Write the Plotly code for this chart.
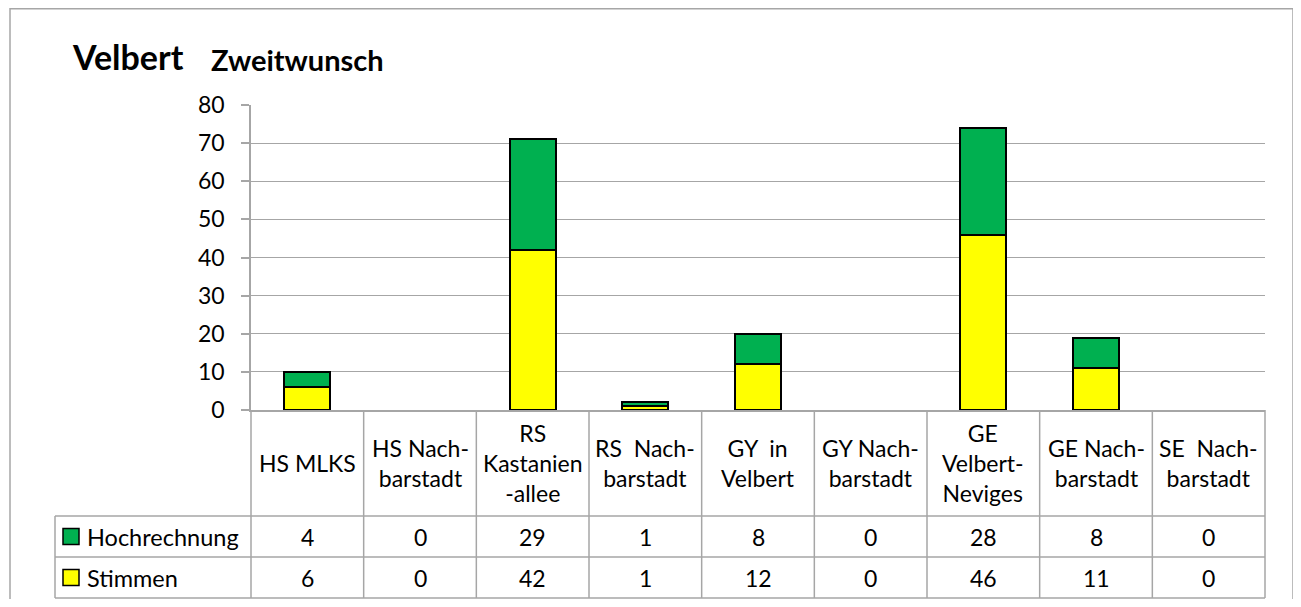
import plotly.graph_objects as go

# ---- data ----
categories = ["HS MLKS", "HS Nach-<br>barstadt", "RS<br>Kastanien<br>-allee",
              "RS \u00a0Nach-<br>barstadt", "GY \u00a0in<br>Velbert", "GY Nach-<br>barstadt",
              "GE<br>Velbert-<br>Neviges", "GE Nach-<br>barstadt", "SE \u00a0Nach-<br>barstadt"]
stimmen = [6, 0, 42, 1, 12, 0, 46, 11, 0]
hochrechnung = [4, 0, 29, 1, 8, 0, 28, 8, 0]
series_names = ["Stimmen", "Hochrechnung"]
series_colors = ["#FFFF00", "#00B050"]
title_main = "Velbert"
title_sub = "Zweitwunsch"

# ---- layout helpers (target page pixel -> paper); page body has an 8px margin ----
OFF = 8
W, H = 1301 - 2 * OFF, 607 - 2 * OFF
def fx(p): return (p - OFF) / W
def fy(p): return 1 - (p - OFF) / H

FONT = "Lato, 'Open Sans', sans-serif"
GRID = "#A6A6A6"
x_left, x_right = 251, 1265
y_top, y_zero = 105, 410
row_lines = [516, 557, 598]
table_left = 55
ncol = len(categories)
colw = (x_right - x_left) / ncol

def outline(vals):
    # no visible outline on empty (zero-height) bars
    return [2 if v else 0 for v in vals]

fig = go.Figure()
fig.add_trace(go.Bar(x=categories, y=stimmen, name=series_names[0],
                     marker=dict(color=series_colors[0],
                                 line=dict(color="black", width=outline(stimmen))),
                     width=0.41))
fig.add_trace(go.Bar(x=categories, y=hochrechnung, name=series_names[1],
                     marker=dict(color=series_colors[1],
                                 line=dict(color="black", width=outline(hochrechnung))),
                     width=0.41))

shapes = []
# outer border
shapes.append(dict(type="rect", xref="paper", yref="paper", x0=fx(10), x1=fx(1293),
                   y0=fy(640), y1=fy(8.8), line=dict(color=GRID, width=1.5)))
# table vertical separators
for i in range(ncol + 1):
    xp = x_left + i * colw
    shapes.append(dict(type="line", xref="paper", yref="paper", x0=fx(xp), x1=fx(xp),
                       y0=fy(y_zero), y1=fy(row_lines[-1]), line=dict(color=GRID, width=1.5)))
# left border of legend column
shapes.append(dict(type="line", xref="paper", yref="paper", x0=fx(table_left), x1=fx(table_left),
                   y0=fy(row_lines[0]), y1=fy(row_lines[-1]), line=dict(color=GRID, width=1.5)))
# horizontal row lines
for yl in row_lines:
    shapes.append(dict(type="line", xref="paper", yref="paper", x0=fx(table_left), x1=fx(x_right),
                       y0=fy(yl), y1=fy(yl), line=dict(color=GRID, width=1.5)))
# legend keys
row_centers = [(row_lines[0] + row_lines[1]) / 2, (row_lines[1] + row_lines[2]) / 2]
table_rows = [(series_names[1], series_colors[1], hochrechnung),
              (series_names[0], series_colors[0], stimmen)]
for (name, col, vals), yc in zip(table_rows, row_centers):
    shapes.append(dict(type="rect", xref="paper", yref="paper", x0=fx(63), x1=fx(79),
                       y0=fy(yc + 8), y1=fy(yc - 8), fillcolor=col,
                       line=dict(color="black", width=1.5)))

annotations = []
annotations.append(dict(text="<b>" + title_main + "</b>", xref="paper", yref="paper",
                        x=fx(70), y=fy(57), xanchor="left", yanchor="middle", showarrow=False,
                        font=dict(family=FONT, size=34, color="black")))
annotations.append(dict(text="<b>" + title_sub + "</b>", xref="paper", yref="paper",
                        x=fx(209), y=fy(59), xanchor="left", yanchor="middle", showarrow=False,
                        font=dict(family=FONT, size=29, color="black")))
for c in categories:
    annotations.append(dict(text=c, xref="x", yref="paper", x=c, y=fy((y_zero + row_lines[0]) / 2),
                            xanchor="center", yanchor="middle", showarrow=False, align="center",
                            font=dict(family=FONT, size=23, color="black")))
for (name, col, vals), yc in zip(table_rows, row_centers):
    annotations.append(dict(text=name, xref="paper", yref="paper", x=fx(85), y=fy(yc),
                            xanchor="left", yanchor="middle", showarrow=False,
                            font=dict(family=FONT, size=23.5, color="black")))
    for c, v in zip(categories, vals):
        annotations.append(dict(text=str(v), xref="x", yref="paper", x=c, y=fy(yc),
                                xanchor="center", yanchor="middle", showarrow=False,
                                font=dict(family=FONT, size=23, color="black")))

fig.update_layout(
    width=W, height=H, margin=dict(l=0, r=0, t=0, b=0, pad=0, autoexpand=False),
    paper_bgcolor="white", plot_bgcolor="white",
    barmode="stack", showlegend=False, bargap=0.59,
    font=dict(family=FONT, size=23, color="black"),
    shapes=shapes, annotations=annotations,
    xaxis=dict(domain=[fx(x_left), fx(x_right)], range=[-0.5, ncol - 0.5], automargin=False,
               showticklabels=False, showgrid=False, zeroline=False,
               showline=True, linecolor=GRID, linewidth=1.5, ticks=""),
    yaxis=dict(domain=[fy(y_zero), fy(y_top)], range=[0, 80], dtick=10, automargin=False,
               showgrid=True, gridcolor=GRID, gridwidth=1.3, zeroline=False,
               showline=True, linecolor=GRID, linewidth=1.5,
               ticks="outside", ticklen=8, tickcolor=GRID, tickwidth=1.5,
               ticklabelstandoff=12, tickfont=dict(family=FONT, size=23, color="black")),
)

fig.write_html("out.html")
